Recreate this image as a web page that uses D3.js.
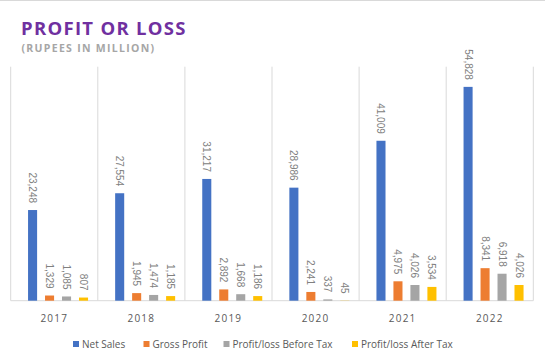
<!DOCTYPE html>
<html><head><meta charset="utf-8">
<script src="https://cdn.jsdelivr.net/npm/d3@7"></script>
<style>body{margin:0;background:#fff}svg{display:block}</style>
</head><body>
<svg id="c" width="545" height="357"></svg>
<script>
const years = ["2017","2018","2019","2020","2021","2022"];
const seriesNames = ["Net Sales","Gross Profit","Profit/loss Before Tax","Profit/loss After Tax"];
const netSales = [23248, 27554, 31217, 28986, 41009, 54828];
const grossProfit = [1329, 1945, 2892, 2241, 4975, 8341];
const profitBeforeTax = [1085, 1474, 1668, 337, 4026, 6918];
const profitAfterTax = [807, 1185, 1186, 45, 3534, 4026];
const colors = ["#4472C4","#ED7D31","#A5A5A5","#FFC000"];
const allSeries = [netSales, grossProfit, profitBeforeTax, profitAfterTax];

(function(){
const svg = d3.select("#c");
const pLeft = 10.7, pRight = 533.3, pTop = 66.7, pBottom = 300.7;

svg.append("line").attr("x1",0).attr("x2",545).attr("y1",0.5).attr("y2",0.5).attr("stroke","#d9d9d9");

svg.append("text").attr("x",21).attr("y",34.5).text("PROFIT OR LOSS")
  .attr("font-family","Open Sans, Noto Sans, sans-serif").attr("font-weight","bold")
  .attr("font-size",18.5).attr("letter-spacing",1.3).attr("fill","#7030A0");
svg.append("text").attr("x",21.5).attr("y",51.5).text("(RUPEES IN MILLION)")
  .attr("font-family","Open Sans, Noto Sans, sans-serif").attr("font-weight","bold")
  .attr("font-size",10.5).attr("letter-spacing",1.3).attr("fill","#A6A6A6");

const x0 = d3.scaleBand().domain(years).range([pLeft,pRight]).paddingInner(0).paddingOuter(0);
const x1 = d3.scaleBand().domain(seriesNames).range([0,60]).paddingInner(0.4667).paddingOuter(0);
const y = d3.scaleLinear().domain([0,60000]).range([pBottom,pTop]);

const seps = years.map(d=>x0(d)).concat([pRight]);
svg.selectAll("line.sep").data(seps).enter().append("line")
  .attr("x1",d=>d).attr("x2",d=>d).attr("y1",pTop).attr("y2",pBottom)
  .attr("stroke","#d9d9d9").attr("stroke-width",1);
svg.append("line").attr("x1",pLeft).attr("x2",pRight).attr("y1",pBottom).attr("y2",pBottom)
  .attr("stroke","#d9d9d9");

const groupOffset = (x0.bandwidth() - 60)/2 + 7/2 + 0.3;
const fmt = d3.format(",");
seriesNames.forEach((s,si)=>{
  const vals = allSeries[si];
  const g = svg.append("g");
  g.selectAll("rect").data(vals).enter().append("rect")
    .attr("x",(d,i)=>x0(years[i]) + groupOffset + x1(s))
    .attr("y",d=>y(d)).attr("width",x1.bandwidth()).attr("height",d=>pBottom - y(d))
    .attr("fill",colors[si]);
  g.selectAll("text").data(vals).enter().append("text")
    .attr("transform",(d,i)=>`translate(${x0(years[i]) + groupOffset + x1(s) + x1.bandwidth()/2},${y(d)-7}) rotate(90)`)
    .attr("text-anchor","end").attr("dy","0.35em")
    .attr("font-family","Liberation Sans, Arial, sans-serif").attr("font-size",10)
    .attr("fill","#808080").text(d=>fmt(d));
});

svg.selectAll("text.yr").data(years).enter().append("text")
  .attr("x",d=>x0(d)+x0.bandwidth()/2).attr("y",322)
  .attr("text-anchor","middle").attr("font-family","Open Sans, Noto Sans, sans-serif")
  .attr("font-size",10).attr("letter-spacing",1.2).attr("fill","#595959").text(d=>d);

const legX = [73, 143.5, 223.5, 352];
const leg = svg.append("g");
seriesNames.forEach((s,i)=>{
  leg.append("rect").attr("x",legX[i]).attr("y",341).attr("width",6).attr("height",6).attr("fill",colors[i]);
  leg.append("text").attr("x",legX[i]+9).attr("y",348).text(s)
    .attr("font-family","Open Sans, Noto Sans, sans-serif").attr("font-size",10).attr("fill","#595959");
});
})();
</script>
</body></html>
